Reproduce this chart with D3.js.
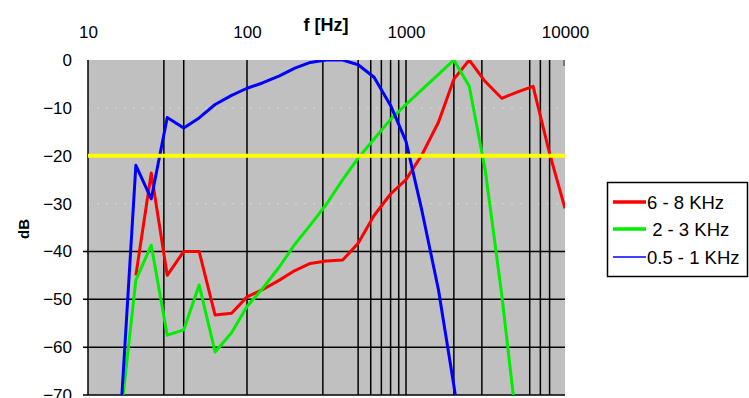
<!DOCTYPE html>
<html>
<head>
<meta charset="utf-8">
<script src="https://cdn.jsdelivr.net/npm/d3@7"></script>
<style>
  html, body { margin: 0; padding: 0; background: #fff; }
  svg { display: block; }
  text { font-family: "Liberation Sans", Arial, sans-serif; fill: #000; }
</style>
</head>
<body>
<svg id="chart" width="749" height="398"></svg>
<script>
// ---- data ----
const freqs = [16, 20, 25, 31.5, 40, 50, 63, 80, 100, 125, 160, 200, 250, 315, 400, 500, 630, 800, 1000, 1250, 1600, 2000, 2500, 3150, 4000, 5000, 6300, 8000, 10000];
const red68 = [null, -45, -23.6, -45, -40, -40, -53.3, -52.9, -49.5, -48, -46, -44, -42.5, -42, -41.8, -38.3, -32.5, -28, -25, -20, -13, -4, 0, -4.5, -8, -6.7, -5.5, -19.5, -31];
const green23 = [-75, -46, -38.7, -57.5, -56.4, -47, -61, -57, -51.5, -47.8, -43.2, -38.5, -34.5, -30.2, -25, -20.5, -16.5, -12.4, -9.3, -6.3, -3, 0, -5.5, -23, -49, -77, null, null, null];
const blue051 = [-75, -22, -29, -12, -14.2, -12.1, -9.3, -7.4, -5.9, -4.8, -3.3, -1.7, -0.5, 0, 0, -1, -3.6, -9.5, -17, -31, -48, -68, -90, null, null, null, null, null, null];
const seriesNames = ["6 - 8 KHz", " 2 - 3 KHz", "0.5 - 1 KHz"];
const seriesColors = ["#ff0000", "#00ee00", "#0000ff"];
const xTicks = [10, 100, 1000, 10000];
const yTicks = [0, -10, -20, -30, -40, -50, -60, -70];
const vGrid = [30, 40, 100, 300, 500, 600, 700, 800, 900, 1000, 2000, 3000, 6000, 7000, 8000];
const darkHGrid = [-40, -50, -60, -70];
const faintHGrid = [-10, -30];
const refLevel = -20;

// ---- layout ----
const L = 88, R = 565, T = 60, B = 395;
const svg = d3.select("#chart");
const x = d3.scaleLog().domain([10, 10000]).range([L, R]);
const y = d3.scaleLinear().domain([0, -70]).range([T, B]);

svg.append("defs").append("clipPath").attr("id", "plotclip")
  .append("rect").attr("x", L).attr("y", T).attr("width", R - L).attr("height", B - T);

// plot background
svg.append("rect").attr("x", L).attr("y", T).attr("width", R - L).attr("height", B - T).attr("fill", "#c0c0c0");

// faint grid
svg.append("g").selectAll("line").data(faintHGrid).join("line")
  .attr("x1", L).attr("x2", R).attr("y1", d => y(d)).attr("y2", d => y(d))
  .attr("stroke", "#d6d6d6").attr("stroke-width", 1).attr("stroke-dasharray", "2,7");

// vertical grid
svg.append("g").selectAll("line").data(vGrid).join("line")
  .attr("x1", d => x(d)).attr("x2", d => x(d)).attr("y1", T).attr("y2", B)
  .attr("stroke", "#000").attr("stroke-width", 1.5);

// horizontal dark grid (with small outside ticks)
svg.append("g").selectAll("line").data(darkHGrid).join("line")
  .attr("x1", L - 5).attr("x2", R).attr("y1", d => y(d)).attr("y2", d => y(d))
  .attr("stroke", "#000").attr("stroke-width", 1.5);

// left axis line
svg.append("line").attr("x1", L).attr("x2", L).attr("y1", T).attr("y2", B)
  .attr("stroke", "#000").attr("stroke-width", 1.5);
// short mark at right top
svg.append("line").attr("x1", R - 1).attr("x2", R - 1).attr("y1", T).attr("y2", T + 6)
  .attr("stroke", "#333").attr("stroke-width", 1);

// series lines
const series = [red68, green23, blue051];
const line = d3.line()
  .defined(d => d[1] !== null)
  .x(d => x(d[0])).y(d => y(d[1]));
const gLines = svg.append("g").attr("clip-path", "url(#plotclip)");
series.forEach((vals, i) => {
  gLines.append("path")
    .datum(freqs.map((f, j) => [f, vals[j]]))
    .attr("d", line)
    .attr("fill", "none")
    .attr("stroke", seriesColors[i])
    .attr("stroke-width", 3)
    .attr("stroke-linejoin", "round");
});

// reference line
svg.append("line").attr("x1", L).attr("x2", R).attr("y1", y(refLevel)).attr("y2", y(refLevel))
  .attr("stroke", "#ffff00").attr("stroke-width", 4);

// top axis labels
const xAxis = d3.axisTop(x).tickValues(xTicks).tickSize(0).tickPadding(0).tickFormat(d3.format("d"));
const gx = svg.append("g").attr("transform", `translate(0,${T - 22})`).call(xAxis);
gx.select(".domain").remove();
gx.selectAll("text").attr("font-size", 17).attr("dy", 0)
  .attr("font-family", "'Liberation Sans', Arial, sans-serif").attr("fill", "#000");

// left axis labels
const yAxis = d3.axisLeft(y).tickValues(yTicks).tickSize(0).tickPadding(0).tickFormat(d3.format("d"));
const gy = svg.append("g").attr("transform", `translate(${L - 16},0)`).call(yAxis);
gy.select(".domain").remove();
gy.selectAll("text").attr("font-size", 17)
  .attr("font-family", "'Liberation Sans', Arial, sans-serif").attr("fill", "#000");

// axis titles
svg.append("text").attr("x", 326).attr("y", 31).attr("text-anchor", "middle")
  .attr("font-size", 18).attr("font-weight", "bold").text("f [Hz]");
svg.append("text").attr("transform", "translate(29,229) rotate(-90)").attr("text-anchor", "middle")
  .attr("font-size", 15).attr("font-weight", "bold").text("dB");

// legend
const lg = svg.append("g");
lg.append("rect").attr("x", 607.5).attr("y", 182.5).attr("width", 140).attr("height", 94)
  .attr("fill", "#fff").attr("stroke", "#000").attr("stroke-width", 1.5);
const legY = [202, 229, 257];
const legW = [3.5, 3.5, 1.5];
seriesNames.forEach((name, i) => {
  lg.append("line").attr("x1", 613).attr("x2", 646).attr("y1", legY[i]).attr("y2", legY[i])
    .attr("stroke", seriesColors[i]).attr("stroke-width", legW[i]);
  lg.append("text").attr("x", 647).attr("y", legY[i] + 6.5).attr("font-size", 18.5)
    .attr("xml:space", "preserve").style("white-space", "pre").text(name);
});
</script>
</body>
</html>
